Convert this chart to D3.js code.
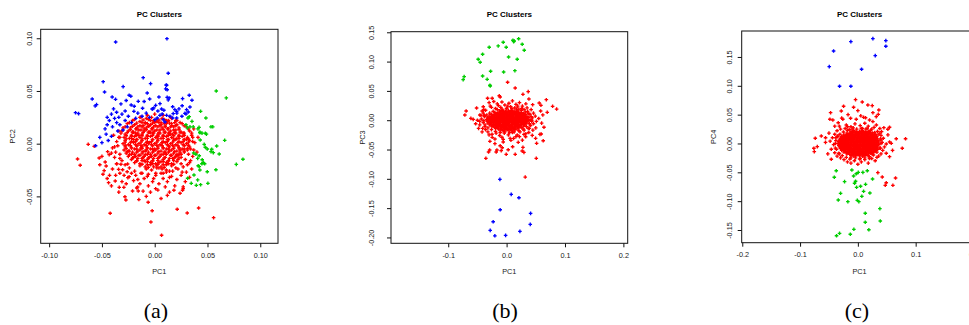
<!DOCTYPE html>
<html><head><meta charset="utf-8">
<script src="https://cdn.jsdelivr.net/npm/d3@7"></script>
<style>body{margin:0;background:#fff}svg{display:block}</style></head>
<body>
<script>
// ---------------- DATA (PC scores) ----------------
// Panel (a): PC1 vs PC2
const blueA=[[-.037,.0965],[.0116,.0996],[.0128,.0668],[-.0109,.0626],[-.0488,.0588],[-.0039,.057],[.0109,.0557],[-.0299,.0541],[-.0475,.049],[.0104,.052],
[-.0592,.0424],[-.0403,.0443],[-.0371,.0421],[-.0242,.0459],[-.0226,.045],[-.0071,.0481],[-.0048,.0424],[-.0156,.0402],[-.0564,.0358],[-.0551,.037],[-.075,.0294],[-.0721,.0285],[-.032,.0377],[-.0223,.0367],[-.0194,.0355],[-.028,.031],[-.0361,.0298],[-.0197,.0307],[-.0115,.0336],
[.0113,.0554],[.0118,.0512],[.004,.0443],[.0118,.044],[.0137,.0434],[.0128,.0415],[.0264,.0427],[.0327,.0459],[.0353,.0412],[.0334,.0348],[.0302,.0323],
[.0009,.0364],[-.0008,.0339],[-.0024,.0329],[.0065,.0329],[.0087,.0317],[.0071,.0282],[.0191,.0323],[.0208,.0307],[.0175,.0285],[.0286,.0288],[.0258,.026],[.0208,.0244],[.017,.0244],[.0144,.026],[.0113,.0269],
[.0049,.0269],[.0024,.0244],[.0002,.0228],[.0081,.0228],[.0097,.0206],[.0318,.0301],[.0296,.0282],
[-.052,.006],[-.056,-.002],[-.050,.001],[-.046,.009],[-.044,.003],[-.041,.007],[-.047,.014],[-.045,.018],[-.040,.016],[-.036,.020],[-.043,.022],[-.038,.024],[-.033,.018],[-.030,.013],[-.035,.012],[-.028,.022],[-.025,.026],[-.022,.020],[-.018,.024],[-.016,.029],[-.012,.026],[-.008,.029],[-.005,.025],[-.002,.033],[.003,.031],[-.026,.016],[-.031,.028],[-.041,.028],[-.045,.025],[-.039,.033],[-.034,.025],[.023,.033],[.026,.036],[.017,.035],[.021,.029],[.005,.038],[-.010,.040],[-.027,.041]];
const greenA=[[.0583,.050],[.0678,.0434],[.0435,.0307],[.0485,.0244],[.0327,.0256],[.0315,.0244],[.0353,.0212],[.0296,.018],[.0334,.016],[.0365,.016],[.042,.0155],[.041,.014],[.0533,.016],[.055,.016],[.031,.015],[.0428,.011],[.0448,.010],[.049,.009],
[.0428,.0104],[.048,.0099],[.0663,.0032],[.0431,.0035],[.0469,-.0006],[.0587,-.0022],[.0479,-.0034],[.0498,-.005],[.054,-.0053],[.0555,-.0085],[.0533,-.0076],[.0611,-.0098],[.0369,-.0088],[.039,-.01],[.0422,-.0114],
[.0407,-.0139],[.045,-.0152],[.046,-.0177],[.0473,-.019],[.0447,-.019],[.0412,-.0209],[.0422,-.0218],[.0428,-.025],[.0498,-.0266],[.058,-.0247],[.0773,-.0196],[.0836,-.0148],[.0372,-.0297],[.0312,-.0328],[.0407,-.0344],[.0346,-.0376],[.0394,-.0395],[.0435,-.0389],[.0504,-.0376]];
const redA=[[-.063,-.0006],[-.0573,-.0025],[-.0731,-.0145],[-.0706,-.0205],[-.0526,-.0136],[-.0422,-.066],[-.0282,-.0503],[-.0273,-.0534],[-.0336,-.0414],[-.0292,-.0414],[-.021,-.0449],[-.0162,-.0411],[-.0156,-.0449],[-.0437,-.037],[-.0374,-.0354],[-.0428,-.030],[-.0062,-.0556],[-.0024,-.0636],[-.0479,-.0256],[-.046,-.0212],[-.0469,-.0174],[-.0446,-.0076],[-.0431,-.0104],[-.0361,-.019],[-.032,-.0195],[-.0257,-.0193],[-.0342,-.0243],[-.0304,-.0247],[-.0261,-.0266],[-.0242,-.0313],[-.0254,-.0322],
[.0213,-.0622],[.0308,-.0658],[.0416,-.061],[.0558,-.0702],[-.0036,-.0743],[.0065,-.0869],[.027,-.0427],[.0264,-.0442],[.0182,-.0442],[.0009,-.0427],
[-.020,-.035],[-.014,-.038],[-.010,-.033],[-.006,-.040],[-.002,-.036],[.004,-.038],[.008,-.033],[.012,-.036],[.016,-.031],[.021,-.034],[.025,-.030],[.029,-.036],[.033,-.032],[.030,-.027],[.035,-.024],[.033,-.018],[.036,-.012],[.037,-.006],[.038,.001],[.036,.006],[.035,.010],[.032,.014],[.028,.017],[.024,.020],[-.017,-.042],[-.011,-.045],[-.004,-.046],[.003,-.044],[.010,-.041],[.014,-.046],[-.031,-.036],[-.037,-.030],[-.040,-.024],[-.038,-.013],[-.040,-.004],[-.036,.002],[-.037,-.008],[-.033,-.014],[-.033,-.028],[-.027,-.038],[-.022,-.028],[-.018,-.030],[-.012,-.028],[-.007,-.031],[.001,-.030],[.006,-.028],[.011,-.027],[.017,-.026],[.022,-.024],[.027,-.022],[.031,-.020],[-.034,.006],[-.032,.010],[-.030,.015],[-.026,.019],[-.021,.022],[-.014,.025],[.016,.024],[.020,.022],[.030,.004],[-.050,-.012],[-.049,-.029],[-.052,-.020],[-.045,-.033],[-.041,-.040],[-.034,-.046],[.019,-.040],[.024,-.047],[.027,-.041],[-.008,-.050],[.006,-.052],[-.015,-.053],[.012,-.049],
[-.034,.012],[-.035,-.002],[-.033,-.010],[-.031,-.016],[-.028,-.020],[-.024,-.023],[-.019,-.026],[-.013,-.028],[-.006,-.029],[.001,-.028],[.008,-.028],[.014,-.026],[.020,-.023],[.025,-.019],[.029,-.015],[.032,-.010],[.034,-.005],[.036,.002],[.035,.008],[.033,.012],[.030,.016],[.026,.019],[.021,.022],[.015,.025],[.008,.027],[.000,.028],[-.007,.027],[-.013,.025],[-.019,.023],[-.024,.020],[-.028,.016],[-.031,.012],[-.033,.006],
[-.039,.008],[-.041,-.009],[-.036,-.019],[-.029,-.030],[-.016,-.034],[-.001,-.033],[.014,-.032],[.026,-.027],[.034,-.016],[.040,-.008],[.041,.006],[.037,.014],[-.038,-.003]];
const redCoreA=[[-.008,.024],[-.003,.025],[.002,.023],[.007,.024],[.011,.022],
[-.014,.021],[-.009,.020],[-.004,.022],[.002,.021],[.006,.020],[.012,.021],[.016,.019],
[-.019,.018],[-.014,.017],[-.009,.019],[-.004,.018],[.001,.017],[.006,.018],[.011,.019],[.016,.017],[.021,.018],
[-.023,.015],[-.017,.014],[-.012,.016],[-.008,.015],[-.002,.014],[.003,.016],[.007,.015],[.013,.014],[.018,.016],[.023,.015],
[-.025,.012],[-.020,.011],[-.015,.013],[-.010,.012],[-.005,.011],[.000,.012],[.005,.013],[.010,.011],[.015,.012],[.020,.013],[.025,.011],
[-.028,.009],[-.022,.008],[-.018,.010],[-.012,.009],[-.007,.008],[-.002,.010],[.003,.009],[.008,.008],[.013,.010],[.017,.009],[.023,.008],[.028,.010],
[-.029,.006],[-.024,.005],[-.019,.007],[-.014,.006],[-.009,.005],[-.004,.007],[.001,.006],[.006,.005],[.011,.007],[.016,.006],[.021,.005],[.026,.007],[.031,.006],
[-.028,.003],[-.022,.002],[-.017,.004],[-.012,.003],[-.007,.002],[-.002,.004],[.003,.003],[.008,.002],[.013,.004],[.018,.003],[.023,.002],[.028,.004],[.033,.003],
[-.030,.000],[-.025,-.001],[-.020,.001],[-.015,.000],[-.010,-.001],[-.005,.001],[.000,.000],[.005,-.001],[.010,.001],[.015,.000],[.020,-.001],[.025,.001],[.030,.000],
[-.028,-.003],[-.022,-.004],[-.017,-.002],[-.012,-.003],[-.007,-.004],[-.002,-.002],[.003,-.003],[.008,-.004],[.013,-.002],[.018,-.003],[.023,-.004],[.028,-.002],[.033,-.003],
[-.029,-.006],[-.024,-.007],[-.019,-.005],[-.014,-.006],[-.009,-.007],[-.004,-.005],[.001,-.006],[.006,-.007],[.011,-.005],[.016,-.006],[.021,-.007],[.026,-.005],[.031,-.006],
[-.027,-.009],[-.022,-.010],[-.017,-.008],[-.012,-.009],[-.007,-.010],[-.002,-.008],[.003,-.009],[.008,-.010],[.013,-.008],[.018,-.009],[.023,-.010],[.028,-.008],
[-.025,-.012],[-.020,-.013],[-.015,-.011],[-.010,-.012],[-.005,-.013],[.000,-.011],[.005,-.012],[.010,-.013],[.015,-.011],[.020,-.012],[.025,-.013],
[-.022,-.015],[-.017,-.016],[-.012,-.014],[-.007,-.015],[-.002,-.016],[.003,-.014],[.008,-.015],[.013,-.016],[.018,-.014],[.022,-.015],
[-.019,-.018],[-.014,-.019],[-.009,-.017],[-.004,-.018],[.001,-.019],[.006,-.017],[.011,-.018],[.016,-.019],[.021,-.017],
[-.014,-.021],[-.009,-.022],[-.004,-.020],[.002,-.021],[.006,-.022],[.011,-.020],[.016,-.021],
[-.008,-.024],[-.003,-.025],[.002,-.023],[.007,-.024],[.011,-.025],
[-.020,.004],[-.015,.008],[-.010,.014],[-.005,.017],[.000,.020],[.005,.010],[.010,.016],[.015,.009],[.020,.004],[-.025,-.007],[-.018,-.012],[-.010,-.016],[-.003,-.012],[.004,-.018],[.010,-.008],[.017,-.014],[.024,-.006],[.000,-.005],[-.006,.000],[.007,.001],[-.013,-.004],[.014,-.003],[.020,.010],[-.021,.011],[.003,.007],[-.008,-.006],[.012,.004],[-.017,-.002],[.022,-.011],[-.004,.011]];
const redCore2A=[[-.011,.0225],[-.006,.023],[-.001,.022],[.004,.0225],[.009,.023],[.013,.022],
[-.017,.0195],[-.012,.020],[-.007,.019],[-.002,.0195],[.004,.020],[.009,.019],[.014,.0195],[.019,.020],
[-.021,.0165],[-.016,.016],[-.011,.017],[-.006,.0165],[-.001,.016],[.005,.017],[.010,.0165],[.015,.016],[.020,.017],
[-.023,.0135],[-.018,.014],[-.013,.013],[-.008,.0135],[-.003,.014],[.002,.013],[.008,.0135],[.012,.014],[.018,.013],[.023,.0135],
[-.026,.0105],[-.021,.011],[-.016,.010],[-.011,.0105],[-.006,.011],[-.001,.010],[.004,.0105],[.009,.011],[.014,.010],[.019,.0105],[.024,.011],[.027,.010],
[-.027,.0075],[-.022,.007],[-.017,.008],[-.012,.0075],[-.007,.007],[-.002,.008],[.003,.0075],[.008,.007],[.013,.008],[.018,.0075],[.023,.007],[.028,.008],
[-.027,.0045],[-.022,.005],[-.017,.004],[-.012,.0045],[-.007,.005],[-.002,.004],[.003,.0045],[.008,.005],[.013,.004],[.018,.0045],[.023,.005],[.028,.004],[.032,.0045],
[-.028,.0015],[-.023,.001],[-.018,.002],[-.013,.0015],[-.008,.001],[-.003,.002],[.002,.0015],[.007,.001],[.012,.002],[.017,.0015],[.022,.001],[.027,.002],[.032,.0015],
[-.028,-.0015],[-.023,-.002],[-.018,-.001],[-.013,-.0015],[-.008,-.002],[-.003,-.001],[.002,-.0015],[.007,-.002],[.012,-.001],[.017,-.0015],[.022,-.002],[.027,-.001],[.032,-.0015],
[-.027,-.0045],[-.022,-.004],[-.017,-.005],[-.012,-.0045],[-.007,-.004],[-.002,-.005],[.003,-.0045],[.008,-.004],[.013,-.005],[.018,-.0045],[.023,-.004],[.028,-.005],[.031,-.0045],
[-.026,-.0075],[-.021,-.008],[-.016,-.007],[-.011,-.0075],[-.006,-.008],[-.001,-.007],[.004,-.0075],[.009,-.008],[.014,-.007],[.019,-.0075],[.024,-.008],[.028,-.007],
[-.024,-.0105],[-.019,-.010],[-.014,-.011],[-.009,-.0105],[-.004,-.010],[.001,-.011],[.006,-.0105],[.011,-.010],[.016,-.011],[.021,-.0105],[.025,-.010],
[-.021,-.0135],[-.016,-.014],[-.011,-.013],[-.006,-.0135],[-.001,-.014],[.004,-.013],[.009,-.0135],[.014,-.014],[.019,-.013],[.023,-.0135],
[-.017,-.0165],[-.012,-.016],[-.007,-.017],[-.002,-.0165],[.003,-.016],[.008,-.017],[.013,-.0165],[.018,-.016],
[-.012,-.0195],[-.007,-.020],[-.002,-.019],[.003,-.0195],[.008,-.020],[.013,-.019],[.018,-.0195],
[-.006,-.0225],[-.001,-.022],[.004,-.023],[.009,-.0225]];
const xTicksA=[-0.10,-0.05,0.00,0.05,0.10], xLabelsA=["-0.10","-0.05","0.00","0.05","0.10"];
const yTicksA=[-0.05,0.00,0.05,0.10], yLabelsA=["-0.05","0.00","0.05","0.10"];

// Panel (b): PC1 vs PC3
const greenB=[[.0206,.139],[.0108,.1364],[.013,.1352],[.012,.134],[-.0058,.133],[.0267,.1296],[-.0144,.1267],[-.0007,.1245],[-.0298,.1245],[.0302,.1193],[-.0411,.1125],[.0034,.1079],[-.0487,.104],[.0182,.104],[-.0453,.0989],[-.0274,.0835],[-.0051,.0823],[.0142,.0845],[-.0411,.0755],[-.0333,.0698],[-.0727,.0743],[-.0744,.0692],[-.0286,.0596],[-.028,.0584]];
const blueB=[[-.0115,-.101],[.0079,-.1265],[.0211,-.1323],[-.011,-.1528],[.0411,-.159],[-.023,-.1733],[.0405,-.1777],[-.0281,-.188],[.0228,-.1897],[-.0201,-.1972],[-.0017,-.1965]];
const redB=[[.0017,.0647],[.0147,.055],[.037,.0487],[.028,.0442],[-.0126,.0418],[-.011,.0396],[-.0247,.0374],[-.0326,.0374],[.0382,.0362],[.068,.035],[.0446,.0265],[.0559,.0294],[.0588,.0254],[.0788,.0237],[.0857,.019],[.0696,.0135],[.0583,.0157],[-.0514,.0208],[-.0693,.0157],[-.0715,.0089],[-.0612,.0032],[-.0572,.0015],[-.0458,.0089],[-.04,.023],[-.0418,.0157],
[-.030,.030],[-.022,.032],[-.016,.028],[-.008,.031],[-.003,.026],[.004,.029],[.010,.033],[.016,.027],[.022,.030],[.027,.024],[.033,.028],[-.026,.022],[-.019,.020],[-.010,.022],[.000,.020],[.007,.023],[.014,.021],[.021,.019],[.030,.018],[.036,.015],[.042,.018],[.046,.012],[.049,.007],[.044,.004],[.051,-.002],[.046,-.006],[-.036,.017],[-.040,.012],[-.038,.006],[-.043,.002],[-.040,-.004],[-.046,-.008],[-.037,-.011],[-.050,.000],[-.053,-.006],[.041,-.009],[.050,-.013],[.055,.003],[.062,.009],[.060,-.005],[.064,-.012],
[-.0355,-.065],[.0508,-.065],[.0319,-.097],[-.0309,-.0543],[-.0291,-.0509],[-.0178,-.0543],[-.0166,-.0509],[-.0092,-.052],[-.0007,-.0582],[.0147,-.0582],[.0297,-.0548],[.0267,-.0526],[.0027,-.0504],[.0103,-.0452],[.0199,-.0377],[.028,-.0463],[-.011,-.0435],[-.0075,-.047],[-.0058,-.0372],[-.0058,-.0326],[-.0286,-.036],[-.0247,-.0292],[.0074,-.0343],[.0182,-.0253],[.0627,-.035],[.0514,-.0394],[.0497,-.0309],[.0571,-.0241],[.0593,-.0236],[.0439,-.0258],[.0326,-.0282],[.0297,-.0241],
[-.032,-.020],[-.025,-.024],[-.018,-.022],[-.012,-.026],[-.004,-.022],[.003,-.025],[.010,-.021],[.016,-.028],[.023,-.020],[.030,-.017],[.037,-.014],[-.036,-.016],[-.042,-.020],[-.020,-.032],[.012,-.031],[.038,-.021],[.045,-.017],[-.048,-.014],
[-.028,.024],[-.014,.025],[.002,.024],[.019,.024],[.026,.020],[.035,.021],[.040,.010],[.043,-.002],[.039,-.014],[-.039,.018],[-.044,.008],[-.046,-.002],[-.041,-.014],[-.030,-.025],[-.008,-.029],[.006,-.031],[.022,-.028],[.033,-.023],[-.020,-.040],[.027,-.034],
[-.038,.008],[-.039,-.001],[-.037,-.008],[-.032,-.013],[-.026,-.016],[-.019,-.019],[-.011,-.021],[-.003,-.020],[.005,-.021],[.013,-.020],[.021,-.018],[.028,-.015],[.034,-.011],[.039,-.006],[.043,.000],[.042,.006],[.038,.011],[.032,.014],[.025,.017],[.017,.019],[.009,.020],[.000,.020],[-.008,.019],[-.016,.018],[-.023,.015],[-.029,.012],[-.034,.009]];
const redCoreB=[[-.012,.016],[-.007,.017],[-.002,.015],[.003,.016],[.008,.017],[.013,.015],[.018,.016],
[-.020,.013],[-.015,.012],[-.010,.014],[-.005,.013],[.000,.012],[.005,.014],[.010,.013],[.015,.012],[.020,.014],[.025,.013],
[-.026,.010],[-.021,.009],[-.016,.011],[-.011,.010],[-.006,.009],[-.001,.011],[.004,.010],[.009,.009],[.014,.011],[.019,.010],[.024,.009],[.029,.011],[.033,.010],
[-.030,.007],[-.025,.006],[-.020,.008],[-.015,.007],[-.010,.006],[-.005,.008],[.000,.007],[.005,.006],[.010,.008],[.015,.007],[.020,.006],[.025,.008],[.030,.007],[.035,.006],
[-.033,.004],[-.028,.003],[-.023,.005],[-.018,.004],[-.013,.003],[-.008,.005],[-.003,.004],[.002,.003],[.007,.005],[.012,.004],[.017,.003],[.022,.005],[.027,.004],[.032,.003],[.037,.005],
[-.034,.001],[-.030,.000],[-.025,.002],[-.020,.001],[-.015,.000],[-.010,.002],[-.005,.001],[.000,.000],[.005,.002],[.010,.001],[.015,.000],[.020,.002],[.025,.001],[.030,.000],[.035,.002],[.040,.001],
[-.033,-.002],[-.028,-.003],[-.023,-.001],[-.018,-.002],[-.013,-.003],[-.008,-.001],[-.003,-.002],[.002,-.003],[.007,-.001],[.012,-.002],[.017,-.003],[.022,-.001],[.027,-.002],[.032,-.003],[.038,-.001],
[-.032,-.005],[-.027,-.006],[-.022,-.004],[-.017,-.005],[-.012,-.006],[-.007,-.004],[-.002,-.005],[.003,-.006],[.008,-.004],[.013,-.005],[.018,-.006],[.023,-.004],[.028,-.005],[.033,-.006],
[-.029,-.008],[-.024,-.009],[-.019,-.007],[-.014,-.008],[-.009,-.009],[-.004,-.007],[.001,-.008],[.006,-.009],[.011,-.007],[.016,-.008],[.021,-.009],[.026,-.007],[.031,-.008],
[-.025,-.011],[-.020,-.012],[-.015,-.010],[-.010,-.011],[-.005,-.012],[.000,-.010],[.005,-.011],[.010,-.012],[.015,-.010],[.020,-.011],[.025,-.012],[.029,-.010],
[-.019,-.014],[-.014,-.015],[-.009,-.013],[-.004,-.014],[.001,-.015],[.006,-.013],[.011,-.014],[.016,-.015],[.021,-.013],
[-.011,-.017],[-.006,-.018],[-.001,-.016],[.004,-.017],[.009,-.018],[.014,-.016],
[-.024,.000],[-.012,.005],[.000,.009],[.012,-.004],[.022,.003],[-.006,-.009],[.008,.012],[.018,-.010],[-.018,-.008],[.030,.004],[-.002,-.013],[.004,.001]];
const redCore2B=[[-.010,.0145],[-.005,.015],[.000,.014],[.006,.0145],[.011,.015],[.016,.014],
[-.018,.0115],[-.013,.012],[-.008,.011],[-.003,.0115],[.002,.012],[.007,.011],[.012,.0115],[.017,.012],[.022,.011],[.027,.0115],
[-.023,.0085],[-.018,.009],[-.013,.008],[-.008,.0085],[-.003,.009],[.002,.008],[.007,.0085],[.012,.009],[.017,.008],[.022,.0085],[.027,.009],[.031,.008],
[-.028,.0055],[-.023,.006],[-.018,.005],[-.013,.0055],[-.008,.006],[-.003,.005],[.002,.0055],[.007,.006],[.012,.005],[.017,.0055],[.022,.006],[.027,.005],[.032,.0055],
[-.031,.0025],[-.026,.002],[-.021,.003],[-.016,.0025],[-.011,.002],[-.006,.003],[-.001,.0025],[.004,.002],[.009,.003],[.014,.0025],[.019,.002],[.024,.003],[.029,.0025],[.034,.002],
[-.031,-.0005],[-.026,-.001],[-.021,.000],[-.016,-.0005],[-.011,-.001],[-.006,.000],[-.001,-.0005],[.004,-.001],[.009,.000],[.014,-.0005],[.019,-.001],[.024,.000],[.029,-.0005],[.034,-.001],
[-.030,-.0035],[-.025,-.003],[-.020,-.004],[-.015,-.0035],[-.010,-.003],[-.005,-.004],[.000,-.0035],[.005,-.003],[.010,-.004],[.015,-.0035],[.020,-.003],[.025,-.004],[.030,-.0035],[.035,-.003],
[-.027,-.0065],[-.022,-.007],[-.017,-.006],[-.012,-.0065],[-.007,-.007],[-.002,-.006],[.003,-.0065],[.008,-.007],[.013,-.006],[.018,-.0065],[.023,-.007],[.028,-.006],
[-.022,-.0095],[-.017,-.010],[-.012,-.009],[-.007,-.0095],[-.002,-.010],[.003,-.009],[.008,-.0095],[.013,-.010],[.018,-.009],[.023,-.0095],
[-.016,-.0125],[-.011,-.013],[-.006,-.012],[-.001,-.0125],[.004,-.013],[.009,-.012],[.014,-.0125],[.019,-.013],
[-.008,-.0155],[-.003,-.015],[.002,-.016],[.007,-.0155],[.012,-.015]];
const xTicksB=[-0.1,0.0,0.1,0.2], xLabelsB=["-0.1","0.0","0.1","0.2"];
const yTicksB=[-0.20,-0.15,-0.10,-0.05,0.00,0.05,0.10,0.15], yLabelsB=["-0.20","-0.15","-0.10","-0.05","0.00","0.05","0.10","0.15"];

// Panel (c): PC1 vs PC4
const blueC=[[.026,.1817],[.0484,.1783],[-.0121,.1765],[.0484,.1685],[-.042,.1604],[.0301,.1523],[-.0495,.1332],[.0064,.1287],[-.0317,.0992],[-.0121,.0992]];
const greenC=[[-.0104,-.046],[-.0374,-.0472],[.0007,-.05],[-.0028,-.0524],[.0087,-.05],[.0163,-.0472],[-.0074,-.0564],[-.0408,-.0586],[.0254,-.0616],[-.023,-.0662],[-.004,-.0655],[-.0057,-.069],[.0133,-.0708],[.0047,-.0742],[-.0022,-.076],[.0099,-.0829],[.0208,-.0858],[-.0299,-.0864],[.0069,-.0916],[-.0339,-.098],[-.001,-.0985],[.0017,-.1009],[-.0173,-.1009],[.0381,-.113],[.0128,-.121],[.0128,-.1366],[.0388,-.1344],[-.0069,-.1488],[.019,-.1495],[-.0317,-.1557],[-.0369,-.1599],[-.0131,-.1574]];
const redC=[[-.004,.076],[.0076,.072],[.0173,.0668],[.0249,.0656],[-.0247,.0645],[-.0074,.0628],[0,.0569],[.0363,.0581],[-.0472,.0534],[-.0287,.0564],[.026,.0534],[.0353,.0506],[.0099,.0454],[.0133,.0447],[-.0484,.042],[-.0433,.0407],[-.026,.042],[-.0126,.0437],[-.0028,.042],[.0202,.0407],[.0318,.0465],[.0548,.0281],[.0519,.0246],[.045,.0274],[.041,.0205],[-.0737,.009],[-.0633,.013],[-.0559,.010],[.0664,.0083],[.0825,.0083],[-.0702,-.0055],[-.0754,-.0142],[-.0761,-.0083],[-.046,-.0274],[.0548,.0026],[.0578,.0003],[.0491,-.0009],[.0768,-.0083],[.0548,-.0229],[.0491,-.017],[.0346,-.0506],[.0422,-.0581],[.0652,-.0598],[.0491,-.068],[.0474,-.0725],[.0606,-.0725],
[-.040,.030],[-.034,.036],[-.020,.032],[-.012,.029],[-.005,.034],[.004,.031],[.012,.035],[.018,.030],[.026,.038],[.032,.032],[.038,.026],[-.036,.022],[-.030,.025],[-.022,.026],[-.015,.024],[.008,.026],[.024,.025],[.034,.021],[.040,.014],[.044,.009],[.042,.002],[.046,-.006],[.043,-.012],[.040,-.018],[.036,-.022],[-.040,.016],[-.044,.010],[-.048,.004],[-.042,-.002],[-.046,-.010],[-.040,-.016],[-.036,-.022],[-.030,-.025],[-.024,-.028],[-.018,-.032],[-.012,-.034],[-.006,-.030],[.000,-.036],[.006,-.032],[.012,-.028],[.018,-.034],[.024,-.026],[.030,-.030],[-.052,-.018],[-.056,.002],[-.050,.018],[.052,.015],[.060,-.012],[-.028,.044],[.005,.048],[-.017,.050],
[-.032,.030],[-.008,.027],[.016,.026],[.028,.028],[.038,.018],[.040,.006],[.039,-.008],[.033,-.024],[.020,-.026],[.003,-.027],[-.014,-.027],[-.032,-.018],[-.039,-.008],[-.038,.005],[-.035,.013],[-.018,.029],
[-.038,.010],[-.039,.000],[-.037,-.010],[-.033,-.017],[-.027,-.021],[-.020,-.024],[-.012,-.025],[-.004,-.025],[.004,-.026],[.012,-.025],[.020,-.023],[.027,-.020],[.033,-.015],[.038,-.008],[.040,.000],[.039,.008],[.035,.015],[.029,.019],[.022,.023],[.014,.025],[.006,.026],[-.002,.025],[-.010,.025],[-.018,.023],[-.025,.020],[-.031,.016],[-.035,.012]];
const redCoreC=[[-.012,.021],[-.007,.022],[-.002,.020],[.003,.021],[.008,.022],[.013,.020],[.018,.021],
[-.019,.018],[-.014,.017],[-.009,.019],[-.004,.018],[.001,.017],[.006,.019],[.011,.018],[.016,.017],[.021,.019],[.025,.018],
[-.024,.015],[-.019,.014],[-.014,.016],[-.009,.015],[-.004,.014],[.001,.016],[.006,.015],[.011,.014],[.016,.016],[.021,.015],[.026,.014],[.030,.016],
[-.028,.012],[-.023,.011],[-.018,.013],[-.013,.012],[-.008,.011],[-.003,.013],[.002,.012],[.007,.011],[.012,.013],[.017,.012],[.022,.011],[.027,.013],[.032,.012],
[-.030,.009],[-.025,.008],[-.020,.010],[-.015,.009],[-.010,.008],[-.005,.010],[.000,.009],[.005,.008],[.010,.010],[.015,.009],[.020,.008],[.025,.010],[.030,.009],[.034,.008],
[-.032,.006],[-.027,.005],[-.022,.007],[-.017,.006],[-.012,.005],[-.007,.007],[-.002,.006],[.003,.005],[.008,.007],[.013,.006],[.018,.005],[.023,.007],[.028,.006],[.033,.005],
[-.033,.003],[-.028,.002],[-.023,.004],[-.018,.003],[-.013,.002],[-.008,.004],[-.003,.003],[.002,.002],[.007,.004],[.012,.003],[.017,.002],[.022,.004],[.027,.003],[.032,.002],[.036,.004],
[-.034,.000],[-.030,-.001],[-.025,.001],[-.020,.000],[-.015,-.001],[-.010,.001],[-.005,.000],[.000,-.001],[.005,.001],[.010,.000],[.015,-.001],[.020,.001],[.025,.000],[.030,-.001],[.035,.001],
[-.033,-.003],[-.028,-.004],[-.023,-.002],[-.018,-.003],[-.013,-.004],[-.008,-.002],[-.003,-.003],[.002,-.004],[.007,-.002],[.012,-.003],[.017,-.004],[.022,-.002],[.027,-.003],[.032,-.004],[.036,-.002],
[-.032,-.006],[-.027,-.007],[-.022,-.005],[-.017,-.006],[-.012,-.007],[-.007,-.005],[-.002,-.006],[.003,-.007],[.008,-.005],[.013,-.006],[.018,-.007],[.023,-.005],[.028,-.006],[.033,-.007],
[-.030,-.009],[-.025,-.010],[-.020,-.008],[-.015,-.009],[-.010,-.010],[-.005,-.008],[.000,-.009],[.005,-.010],[.010,-.008],[.015,-.009],[.020,-.010],[.025,-.008],[.030,-.009],[.034,-.010],
[-.028,-.012],[-.023,-.013],[-.018,-.011],[-.013,-.012],[-.008,-.013],[-.003,-.011],[.002,-.012],[.007,-.013],[.012,-.011],[.017,-.012],[.022,-.013],[.027,-.011],[.032,-.012],
[-.024,-.015],[-.019,-.016],[-.014,-.014],[-.009,-.015],[-.004,-.016],[.001,-.014],[.006,-.015],[.011,-.016],[.016,-.014],[.021,-.015],[.026,-.016],[.030,-.014],
[-.019,-.018],[-.014,-.019],[-.009,-.017],[-.004,-.018],[.001,-.019],[.006,-.017],[.011,-.018],[.016,-.019],[.021,-.017],[.025,-.018],
[-.012,-.021],[-.007,-.022],[-.002,-.020],[.003,-.021],[.008,-.022],[.013,-.020],[.018,-.021],
[-.020,.004],[-.010,.012],[.000,.016],[.010,-.006],[.020,.004],[-.006,-.013],[.006,.010],[.016,-.013],[-.016,-.008],[.026,.005],[.000,.003],[-.025,.013],[.022,-.016]];
const redCore2C=[[-.010,.0195],[-.005,.020],[.000,.019],[.005,.0195],[.010,.020],[.015,.019],[.020,.0195],
[-.017,.0165],[-.012,.017],[-.007,.016],[-.002,.0165],[.003,.017],[.008,.016],[.013,.0165],[.018,.017],[.023,.016],
[-.021,.0135],[-.016,.014],[-.011,.013],[-.006,.0135],[-.001,.014],[.004,.013],[.009,.0135],[.014,.014],[.019,.013],[.024,.0135],[.028,.014],
[-.026,.0105],[-.021,.011],[-.016,.010],[-.011,.0105],[-.006,.011],[-.001,.010],[.004,.0105],[.009,.011],[.014,.010],[.019,.0105],[.024,.011],[.029,.010],
[-.028,.0075],[-.023,.007],[-.018,.008],[-.013,.0075],[-.008,.007],[-.003,.008],[.002,.0075],[.007,.007],[.012,.008],[.017,.0075],[.022,.007],[.027,.008],[.031,.0075],
[-.030,.0045],[-.025,.005],[-.020,.004],[-.015,.0045],[-.010,.005],[-.005,.004],[.000,.0045],[.005,.005],[.010,.004],[.015,.0045],[.020,.005],[.025,.004],[.030,.0045],[.034,.005],
[-.031,.0015],[-.026,.001],[-.021,.002],[-.016,.0015],[-.011,.001],[-.006,.002],[-.001,.0015],[.004,.001],[.009,.002],[.014,.0015],[.019,.001],[.024,.002],[.029,.0015],[.033,.001],
[-.031,-.0015],[-.026,-.002],[-.021,-.001],[-.016,-.0015],[-.011,-.002],[-.006,-.001],[-.001,-.0015],[.004,-.002],[.009,-.001],[.014,-.0015],[.019,-.002],[.024,-.001],[.029,-.0015],[.033,-.002],
[-.030,-.0045],[-.025,-.004],[-.020,-.005],[-.015,-.0045],[-.010,-.004],[-.005,-.005],[.000,-.0045],[.005,-.004],[.010,-.005],[.015,-.0045],[.020,-.004],[.025,-.005],[.030,-.0045],[.034,-.004],
[-.028,-.0075],[-.023,-.008],[-.018,-.007],[-.013,-.0075],[-.008,-.008],[-.003,-.007],[.002,-.0075],[.007,-.008],[.012,-.007],[.017,-.0075],[.022,-.008],[.027,-.007],[.031,-.0075],
[-.026,-.0105],[-.021,-.010],[-.016,-.011],[-.011,-.0105],[-.006,-.010],[-.001,-.011],[.004,-.0105],[.009,-.010],[.014,-.011],[.019,-.0105],[.024,-.010],[.029,-.011],
[-.021,-.0135],[-.016,-.014],[-.011,-.013],[-.006,-.0135],[-.001,-.014],[.004,-.013],[.009,-.0135],[.014,-.014],[.019,-.013],[.024,-.0135],[.028,-.013],
[-.017,-.0165],[-.012,-.016],[-.007,-.017],[-.002,-.0165],[.003,-.016],[.008,-.017],[.013,-.0165],[.018,-.016],[.023,-.017],
[-.010,-.0195],[-.005,-.020],[.000,-.019],[.005,-.0195],[.010,-.020],[.015,-.019]];
const xTicksC=[-0.2,-0.1,0.0,0.1,0.2], xLabelsC=["-0.2","-0.1","0.0","0.1","0.2"];
const yTicksC=[-0.15,-0.10,-0.05,0.00,0.05,0.10,0.15], yLabelsC=["-0.15","-0.10","-0.05","0.00","0.05","0.10","0.15"];

const titleText="PC Clusters";
const captions=["(a)","(b)","(c)"];

// ---------------- LAYOUT ----------------
const W=969,H=325;
const svg=d3.select("body").append("svg").attr("width",W).attr("height",H);
const FONT="'Liberation Sans', Arial, Helvetica, sans-serif";
const COL={red:"#ff0000",blue:"#0000ff",green:"#00cd00"};

const panels=[
 {red:redA.concat(redCoreA,redCore2A),blue:blueA,green:greenA,xt:xTicksA,xl:xLabelsA,yt:yTicksA,yl:yLabelsA,xLab:"PC1",yLab:"PC2",cap:captions[0],
  L:40.7,R:278,T:29.3,B:243.3,xd:[-0.108,0.1168],yd:[-0.0945,0.1085],ytx:31.7,ylx:15,capx:156},
 {red:redB.concat(redCoreB,redCore2B),blue:blueB,green:greenB,xt:xTicksB,xl:xLabelsB,yt:yTicksB,yl:yLabelsB,xLab:"PC1",yLab:"PC3",cap:captions[1],
  L:391,R:627.7,T:31.7,B:243.3,xd:[-0.198,0.2074],yd:[-0.210,0.151],ytx:373.5,ylx:365,capx:505},
 {red:redC.concat(redCoreC,redCore2C),blue:blueC,green:greenC,xt:xTicksC,xl:xLabelsC,yt:yTicksC,yl:yLabelsC,xLab:"PC1",yLab:"PC4",cap:captions[2],
  L:741.7,R:977.5,T:31,B:242.7,xd:[-0.201,0.207],yd:[-0.172,0.195],ytx:731.7,ylx:715.7,capx:857}
];

const sym="M-1.8,0H1.8M0,-1.8V1.8";

panels.forEach(p=>{
  const x=d3.scaleLinear().domain(p.xd).range([p.L,p.R]);
  const y=d3.scaleLinear().domain(p.yd).range([p.B,p.T]);
  const g=svg.append("g");
  [["red",p.red],["blue",p.blue],["green",p.green]].forEach(([c,data])=>{
    g.append("g").selectAll("path").data(data).join("path")
      .attr("d",sym).attr("transform",d=>`translate(${x(d[0]).toFixed(2)},${y(d[1]).toFixed(2)})`)
      .attr("fill","none").attr("stroke",COL[c]).attr("stroke-width",1.35);
  });
  g.append("rect").attr("x",p.L).attr("y",p.T).attr("width",p.R-p.L).attr("height",p.B-p.T)
    .attr("fill","none").attr("stroke","#111").attr("stroke-width",1);

  const xa=g.append("g").attr("transform",`translate(0,${p.B})`)
    .call(d3.axisBottom(x).tickValues(p.xt).tickFormat((d,i)=>p.xl[i]).tickSize(4).tickSizeOuter(0));
  xa.select(".domain").remove();
  xa.attr("font-size",null).attr("font-family",null);
  xa.selectAll(".tick line").attr("stroke","#111");
  xa.selectAll("text").attr("y",14.4).attr("dy",null).attr("fill","#222")
    .style("font-size","7.3px").style("font-family",FONT);

  const ya=g.append("g").attr("transform",`translate(${p.L},0)`)
    .call(d3.axisLeft(y).tickValues(p.yt).tickFormat((d,i)=>p.yl[i]).tickSize(4).tickSizeOuter(0));
  ya.select(".domain").remove();
  ya.attr("font-size",null).attr("font-family",null);
  ya.selectAll(".tick line").attr("stroke","#111");
  ya.selectAll("text").attr("x",null).attr("dy",null).attr("text-anchor","middle")
    .attr("transform",`translate(${p.ytx-p.L},0) rotate(-90)`).attr("fill","#222")
    .style("font-size","7.3px").style("font-family",FONT);

  svg.append("text").attr("x",(p.L+p.R)/2).attr("y",16.7).attr("text-anchor","middle")
    .style("font-family",FONT).style("font-size","8px").style("font-weight","bold").text(titleText);
  svg.append("text").attr("x",(p.L+p.R)/2).attr("y",273.5).attr("text-anchor","middle").attr("fill","#222")
    .style("font-family",FONT).style("font-size","7.3px").text(p.xLab);
  svg.append("text").attr("transform",`translate(${p.ylx},${(p.T+p.B)/2}) rotate(-90)`).attr("text-anchor","middle").attr("fill","#222")
    .style("font-family",FONT).style("font-size","7.3px").text(p.yLab);
  svg.append("text").attr("x",p.capx).attr("y",318).attr("text-anchor","middle")
    .style("font-family","'Liberation Serif','DejaVu Serif',serif").style("font-size","22px").text(p.cap);
});
</script>
</body></html>
